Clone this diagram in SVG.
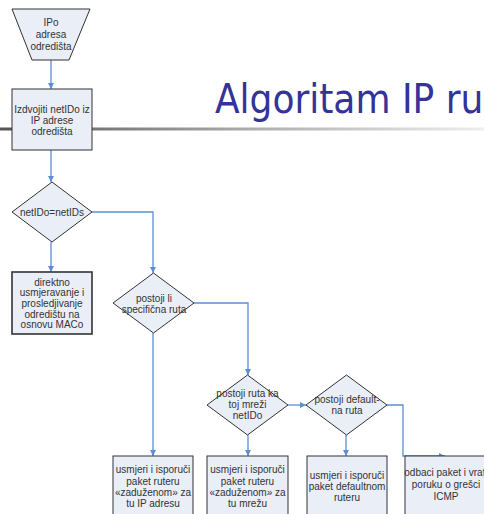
<svg xmlns="http://www.w3.org/2000/svg" width="484" height="514" viewBox="0 0 484 514">
<defs>
<linearGradient id="rule" x1="0" y1="0" x2="1" y2="0">
<stop offset="0" stop-color="#555555"/>
<stop offset="0.5" stop-color="#aaaaaa"/>
<stop offset="1" stop-color="#eeeeee"/>
</linearGradient>
<marker id="ah" markerWidth="8" markerHeight="8" refX="6" refY="4" orient="auto" markerUnits="userSpaceOnUse">
<path d="M0,1 L6,4 L0,7 Z" fill="#5b8ed6"/>
</marker>
<style>
.shape{fill:#e9eef7;stroke:#333333;stroke-width:1}
.dark{stroke-width:1.6}
.t{font-family:"Liberation Sans",Arial,sans-serif;font-size:10px;fill:#333333;text-anchor:middle}
.c{fill:none;stroke:#5b8ed6;stroke-width:1.3;marker-end:url(#ah)}
.title{font-family:"DejaVu Sans Condensed","DejaVu Sans",sans-serif;font-size:40px;fill:#333399}
</style>
</defs>
<rect x="0" y="127.5" width="484" height="3" fill="url(#rule)"/>
<text class="title" x="215" y="113">Algoritam IP ru</text>
<g id="connectors">
<path class="c" d="M51,60 L51,89"/>
<path class="c" d="M51,150 L51,182"/>
<path class="c" d="M92,212 L153,212 L153,273"/>
<path class="c" d="M51,242 L51,272"/>
<path class="c" d="M194,303 L248,303 L248,375"/>
<path class="c" d="M153,333 L153,456"/>
<path class="c" d="M248,435 L248,456"/>
<path class="c" d="M288,405 L306,405"/>
<path class="c" d="M346,435 L346,456"/>
<path class="c" d="M387,405 L403,405 L403,456 L445,456"/>
</g>
<g id="start">
<polygon class="shape" points="12,9 90,9 69,60 32,60"/>
<text class="t" x="51" y="26">IPo</text>
<text class="t" x="51" y="38">adresa</text>
<text class="t" x="51" y="50">odredišta</text>
</g>
<g id="extract">
<rect class="shape" x="12" y="89" width="80" height="61"/>
<text class="t" x="52" y="113">Izdvojiti netIDo iz</text>
<text class="t" x="52" y="124">IP adrese</text>
<text class="t" x="52" y="135">odredišta</text>
</g>
<g id="d1">
<polygon class="shape" points="52,182 92,212 52,242 12,212"/>
<text class="t" x="52" y="216">netIDo=netIDs</text>
</g>
<g id="direct">
<rect class="shape dark" x="12" y="272" width="80" height="62"/>
<text class="t" x="52" y="285.5">direktno</text>
<text class="t" x="52" y="296">usmjeravanje i</text>
<text class="t" x="52" y="307">prosledjivanje</text>
<text class="t" x="52" y="317.5">odredištu na</text>
<text class="t" x="52" y="328">osnovu MACo</text>
</g>
<g id="d2">
<polygon class="shape" points="153.5,273 194,303 153.5,333 113,303"/>
<text class="t" x="154" y="302">postoji li</text>
<text class="t" x="154" y="313">specifična ruta</text>
</g>
<g id="d3">
<polygon class="shape" points="247.5,375 288,405 247.5,435 207,405"/>
<text class="t" x="247.5" y="397">postoji ruta ka</text>
<text class="t" x="247.5" y="408">toj mreži</text>
<text class="t" x="247.5" y="419">netIDo</text>
</g>
<g id="d4">
<polygon class="shape" points="346.5,375 387,405 346.5,435 306,405"/>
<text class="t" x="347" y="403">postoji default-</text>
<text class="t" x="347" y="414">na ruta</text>
</g>
<g id="r1">
<rect class="shape" x="113" y="456" width="80" height="70"/>
<text class="t" x="153" y="473">usmjeri i isporuči</text>
<text class="t" x="153" y="484.5">paket ruteru</text>
<text class="t" x="153" y="496">«zaduženom» za</text>
<text class="t" x="153" y="507">tu IP adresu</text>
</g>
<g id="r2">
<rect class="shape" x="207" y="456" width="81" height="70"/>
<text class="t" x="247.5" y="473">usmjeri i isporuči</text>
<text class="t" x="247.5" y="484.5">paket ruteru</text>
<text class="t" x="247.5" y="496">«zaduženom» za</text>
<text class="t" x="247.5" y="507">tu mrežu</text>
</g>
<g id="r3">
<rect class="shape" x="307" y="456" width="80" height="70"/>
<text class="t" x="347" y="478.5">usmjeri i isporuči</text>
<text class="t" x="347" y="489.5">paket defaultnom</text>
<text class="t" x="347" y="500.5">ruteru</text>
</g>
<g id="r4">
<rect class="shape" x="405" y="456" width="82" height="70"/>
<text class="t" x="446" y="476">odbaci paket i vrati</text>
<text class="t" x="446" y="488">poruku o grešci</text>
<text class="t" x="446" y="500">ICMP</text>
</g>
</svg>
